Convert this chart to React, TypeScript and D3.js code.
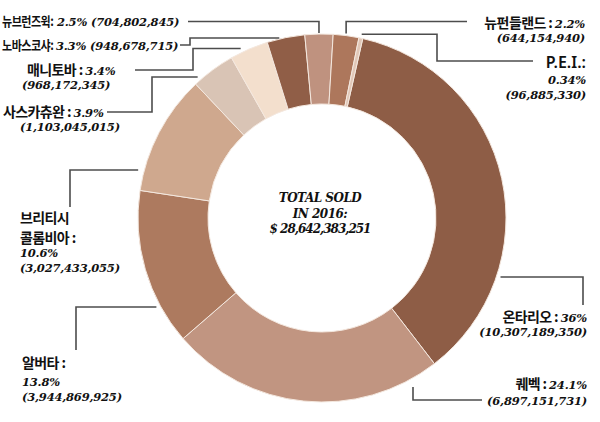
import React from 'react';
import * as d3 from 'd3';

// 2016년 주별 판매액
const provinces = ['온타리오', '퀘벡', '알버타', '브리티시 콜롬비아', '사스카츄완', '매니토바', '노바스코샤', '뉴브런즈윅', '뉴펀들랜드', 'P.E.I.'];
const sales = [10307189350, 6897151731, 3944869925, 3027433055, 1103045015, 968172345, 948678715, 704802845, 644154940, 96885330];
const shares = ['36%', '24.1%', '13.8%', '10.6%', '3.9%', '3.4%', '3.3%', '2.5%', '2.2%', '0.34%'];
const colors = ['#8e5d46', '#c19581', '#ad7a5f', '#cfa88e', '#d9c4b5', '#f3dfcd', '#905e47', '#bf927f', '#ad775c', '#e1c7b7'];
const totalLines = ['TOTAL SOLD', 'IN 2016:', '$ 28,642,383,251'];

const W = 600;
const H = 422;
const CX = 322;
const CY = 218;
const R_OUT = 184;
const R_IN = 114;
const START = (12.8 * Math.PI) / 180;

const KO = "'Noto Sans CJK KR', 'Noto Sans', sans-serif";
const NUM = "'DejaVu Serif', 'Liberation Serif', serif";
const LAT = "'Noto Sans', 'Liberation Sans', sans-serif";

type Seg = { t: string; f: 'ko' | 'num' | 'lat' };
type Line = { y: number; x?: number; segs: Seg[]; squeeze?: number; numX?: number };
type Leader = { pts: number[][]; snap?: 'h' | 'v'; side?: number; gap?: number; fromMid?: boolean; midV?: boolean };

const fmt = d3.format(',');
const val = (i: number) => `(${fmt(sales[i])})`;

const App = () => {
  const pie = d3
    .pie<number>()
    .sort(null)
    .value((d) => d)
    .startAngle(START)
    .endAngle(START + Math.PI * 2);
  const arcs = pie(sales);
  const arc = d3.arc<d3.PieArcDatum<number>>().innerRadius(R_IN).outerRadius(R_OUT);

  const mid = (i: number) => (arcs[i].startAngle + arcs[i].endAngle) / 2;

  // label text, one entry per province
  const labels: { anchor: 'start' | 'end'; x: number; lines: Line[] }[] = [
    {
      anchor: 'end', x: 587,
      lines: [
        { y: 322, segs: [{ t: provinces[0] + ' : ', f: 'ko' }, { t: shares[0], f: 'num' }] },
        { y: 336, segs: [{ t: val(0), f: 'num' }] },
      ],
    },
    {
      anchor: 'end', x: 587,
      lines: [
        { y: 389, segs: [{ t: provinces[1] + ' : ', f: 'ko' }, { t: shares[1], f: 'num' }] },
        { y: 405, segs: [{ t: val(1), f: 'num' }] },
      ],
    },
    {
      anchor: 'start', x: 22,
      lines: [
        { y: 368, segs: [{ t: provinces[2] + ' :', f: 'ko' }] },
        { y: 386, segs: [{ t: shares[2], f: 'num' }] },
        { y: 401, segs: [{ t: val(2), f: 'num' }] },
      ],
    },
    {
      anchor: 'start', x: 20,
      lines: [
        { y: 223, segs: [{ t: provinces[3].split(' ')[0], f: 'ko' }] },
        { y: 243, segs: [{ t: provinces[3].split(' ')[1] + ' :', f: 'ko' }] },
        { y: 257, segs: [{ t: shares[3], f: 'num' }] },
        { y: 272, segs: [{ t: val(3), f: 'num' }] },
      ],
    },
    {
      anchor: 'start', x: 3,
      lines: [
        { y: 117, segs: [{ t: provinces[4] + ' : ', f: 'ko' }, { t: shares[4], f: 'num' }] },
        { y: 131, x: 20, segs: [{ t: val(4), f: 'num' }] },
      ],
    },
    {
      anchor: 'start', x: 27,
      lines: [
        { y: 75, segs: [{ t: provinces[5] + ' : ', f: 'ko' }, { t: shares[5], f: 'num' }] },
        { y: 89, x: 22, segs: [{ t: val(5), f: 'num' }] },
      ],
    },
    {
      anchor: 'start', x: 2,
      lines: [
        { y: 50, squeeze: 0.85, numX: 56, segs: [{ t: provinces[6] + ':', f: 'ko' }, { t: shares[6] + ' ' + val(6), f: 'num' }] },
      ],
    },
    {
      anchor: 'start', x: 2,
      lines: [
        { y: 26, squeeze: 0.85, numX: 57, segs: [{ t: provinces[7] + ':', f: 'ko' }, { t: shares[7] + ' ' + val(7), f: 'num' }] },
      ],
    },
    {
      anchor: 'end', x: 585,
      lines: [
        { y: 28, segs: [{ t: provinces[8] + ' : ', f: 'ko' }, { t: shares[8], f: 'num' }] },
        { y: 42, segs: [{ t: val(8), f: 'num' }] },
      ],
    },
    {
      anchor: 'end', x: 586,
      lines: [
        { y: 68, segs: [{ t: provinces[9] + ':', f: 'lat' }] },
        { y: 84, segs: [{ t: shares[9], f: 'num' }] },
        { y: 99, segs: [{ t: val(9), f: 'num' }] },
      ],
    },
  ];

  // leader lines, the last point gets snapped onto the ring
  const leaders: Leader[] = [
    { pts: [[583, 305], [583, 277], [0, 277]], snap: 'h', side: 1, gap: 4 },
    { pts: [[482, 400], [413, 400], [413, 0]], snap: 'v', side: 1, gap: 8 },
    { pts: [[76, 350], [76, 307], [0, 307]], snap: 'h', side: -1, gap: 4 },
    { pts: [[70, 207], [70, 170], [0, 170]], snap: 'h', side: -1, gap: 6 },
    { pts: [[107, 112], [152, 112], [152, 77], [0, 77]], snap: 'h', side: -1, gap: 4 },
    { pts: [[135, 70], [193, 70], [193, 48.5], [0, 48.5]], snap: 'h', side: -1, gap: 4 },
    { pts: [[180, 45], [190, 45], [190, 38], [0, 38]], snap: 'h', side: -1, gap: 1 },
    { pts: [[188, 21.5], [0, 21.5], [0, 0]], midV: true, gap: 1 },
    { pts: [[467, 21.5], [0, 21.5], [0, 0]], midV: true, gap: 2 },
    { pts: [[0, 0], [437, 0], [437, 61], [533, 61]], fromMid: true, gap: 4 },
  ];

  const leaderPath = (l: Leader, i: number) => {
    const pts = l.pts.map((p) => [...p]);
    const rr = R_OUT + (l.gap || 0);
    if (l.snap === 'h') {
      const p = pts[pts.length - 1];
      p[0] = CX + (l.side as number) * Math.sqrt(rr * rr - (p[1] - CY) ** 2);
    } else if (l.snap === 'v') {
      const p = pts[pts.length - 1];
      p[1] = CY + (l.side as number) * Math.sqrt(rr * rr - (p[0] - CX) ** 2);
    } else if (l.midV) {
      const a = mid(i);
      const x = CX + R_OUT * Math.sin(a);
      pts[1][0] = x;
      pts[2][0] = x;
      pts[2][1] = CY - Math.sqrt(rr * rr - (x - CX) ** 2);
    } else if (l.fromMid) {
      const a = mid(i);
      pts[0] = [CX + rr * Math.sin(a), CY - rr * Math.cos(a)];
      pts[1][1] = pts[0][1];
    }
    return d3.line()(pts as [number, number][]) || '';
  };

  const segStyle = (f: Seg['f']): React.CSSProperties =>
    f === 'ko'
      ? { fontFamily: KO, fontWeight: 700, fontSize: 14, letterSpacing: -0.6 }
      : f === 'lat'
      ? { fontFamily: LAT, fontWeight: 600, fontSize: 16 }
      : { fontFamily: NUM, fontWeight: 700, fontStyle: 'italic', fontSize: 11.5, letterSpacing: -0.2 };

  return (
    <div style={{ position: 'fixed', left: 0, top: 0 }}>
      <svg width={W} height={H} viewBox={`0 0 ${W} ${H}`} style={{ display: 'block', background: '#fff' }}>
        <g transform={`translate(${CX},${CY})`}>
          {arcs.map((a, i) => (
            <path key={i} d={arc(a) || ''} fill={colors[i]} stroke="#f4e8df" strokeWidth={1} />
          ))}
          {totalLines.map((t, i) => (
            <text
              key={i}
              x={-2}
              y={-16 + i * 15.5}
              textAnchor="middle"
              fontFamily={NUM}
              fontWeight={700}
              fontStyle="italic"
              fontSize={12}
              letterSpacing={i === 2 ? -1 : -0.5}
              fill="#111"
            >
              {t}
            </text>
          ))}
        </g>
        <g fill="none" stroke="#4d4d4d" strokeWidth={1.6}>
          {leaders.map((l, i) => (
            <path key={i} d={leaderPath(l, i)} />
          ))}
        </g>
        <g fill="#111">
          {labels.map((lab, i) => (
            <g key={i}>
              {lab.lines.map((ln, j) =>
                ln.squeeze ? (
                  // condensed Korean name + numbers as two texts
                  <g key={j}>
                    <text
                      transform={`translate(${ln.x ?? lab.x},${ln.y}) scale(${ln.squeeze},1)`}
                      style={{ ...segStyle('ko'), fontSize: 13 }}
                    >
                      {ln.segs[0].t}
                    </text>
                    <text x={ln.numX} y={ln.y} style={segStyle('num')}>
                      {ln.segs[1].t}
                    </text>
                  </g>
                ) : (
                  <text key={j} x={ln.x ?? lab.x} y={ln.y} textAnchor={lab.anchor}>
                    {ln.segs.map((s, k) => (
                      <tspan key={k} style={segStyle(s.f)}>
                        {s.t}
                      </tspan>
                    ))}
                  </text>
                )
              )}
            </g>
          ))}
        </g>
      </svg>
    </div>
  );
};

export default App;
